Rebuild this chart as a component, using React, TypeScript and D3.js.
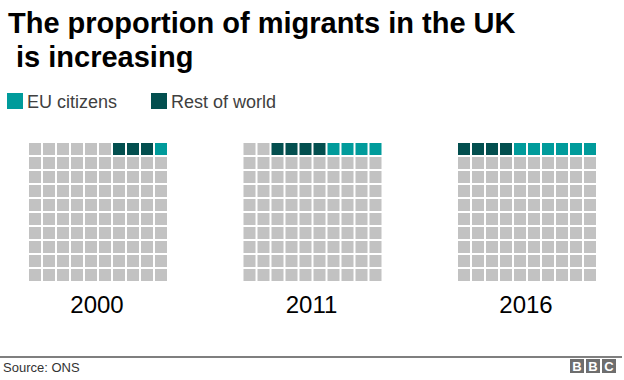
import React from "react";
import * as d3 from "d3";

const years = ["2000", "2011", "2016"];
const euCitizens = [1, 4, 6];
const restOfWorld = [3, 4, 4];
const legendLabels = ["EU citizens", "Rest of world"];
const titleLines = ["The proportion of migrants in the UK", " is increasing"];
const sourceText = "Source: ONS";

const W = 624;
const H = 380;
const EU_COLOR = "#009b9b";
const ROW_COLOR = "#034f4f";
const GREY = "#c2c2c2";
const FONT = "Liberation Sans, Arial, Helvetica, sans-serif";

export default function App() {
  const gridX = d3.scalePoint<string>().domain(years).range([29, 458]);
  const cell = d3
    .scaleBand<number>()
    .domain(d3.range(10))
    .range([0, 138])
    .paddingInner(1 / 7)
    .paddingOuter(0);
  const gridTop = 143;

  return (
    <svg
      width={W}
      height={H}
      style={{ position: "absolute", left: 0, top: 0, background: "#fff" }}
      fontFamily={FONT}
    >
      {titleLines.map((t, i) => (
        <text
          key={i}
          x={8}
          y={33 + i * 34}
          fontSize={29}
          fontWeight="bold"
          fill="#000"
          style={{ whiteSpace: "pre" }}
          xmlSpace="preserve"
        >
          {t}
        </text>
      ))}

      {legendLabels.map((l, i) => {
        const x = i === 0 ? 7 : 151;
        return (
          <g key={l}>
            <rect x={x} y={93} width={16} height={16} fill={i === 0 ? EU_COLOR : ROW_COLOR} />
            <text x={x + 20} y={108} fontSize={18} fill="#404040">
              {l}
            </text>
          </g>
        );
      })}

      {years.map((y, yi) => {
        const x0 = gridX(y)!;
        const eu = euCitizens[yi];
        const rw = restOfWorld[yi];
        return (
          <g key={y} transform={`translate(${x0},${gridTop})`}>
            {d3.range(100).map((i) => {
              const r = Math.floor(i / 10);
              const c = i % 10;
              const k = r * 10 + (9 - c);
              const fill = k < eu ? EU_COLOR : k < eu + rw ? ROW_COLOR : GREY;
              return (
                <rect
                  key={i}
                  x={cell(c)}
                  y={cell(r)}
                  width={cell.bandwidth()}
                  height={cell.bandwidth()}
                  fill={fill}
                />
              );
            })}
            <text x={68} y={170} textAnchor="middle" fontSize={24} fill="#000">
              {y}
            </text>
          </g>
        );
      })}

      <line x1={0} x2={622} y1={357} y2={357} stroke="#000" strokeWidth={1.2} />
      <text x={3} y={372} fontSize={13} fill="#333">
        {sourceText}
      </text>
      {["B", "B", "C"].map((ch, i) => (
        <g key={i} transform={`translate(${570 + i * 16},359)`}>
          <rect width={14} height={14} fill="#6e6e6e" />
          <text x={7} y={12} textAnchor="middle" fontSize={13} fontWeight="bold" fill="#fff">
            {ch}
          </text>
        </g>
      ))}
    </svg>
  );
}
